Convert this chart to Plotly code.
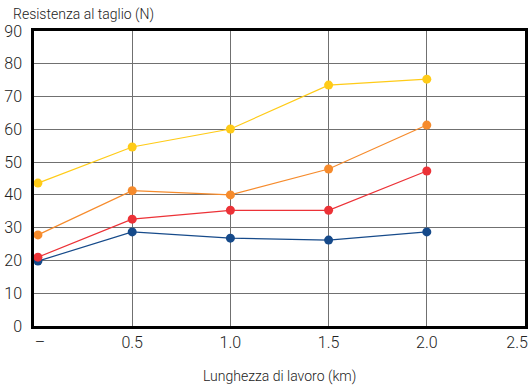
import plotly.graph_objects as go

lunghezza = [0.02, 0.5, 1.0, 1.5, 2.0]
serie_gialla = [43.6, 54.6, 60.1, 73.5, 75.3]
serie_arancio = [27.8, 41.3, 40.0, 47.9, 61.3]
serie_rossa = [21.0, 32.6, 35.3, 35.3, 47.3]
serie_blu = [19.8, 28.7, 26.8, 26.2, 28.7]

x_tickvals = [0.02, 0.5, 1.0, 1.5, 2.0, 2.46]
x_ticktext = ["\u00a0\u2013", "0.5", "1.0", "1.5", "2.0", "2.5"]
y_tickvals = [0, 10, 20, 30, 40, 50, 60, 70, 80, 90]

FONT = "Roboto, Liberation Sans, sans-serif"

fig = go.Figure()
for vals, col in [(serie_blu, "#164a8a"), (serie_rossa, "#ec3237"),
                  (serie_arancio, "#f68b2c"), (serie_gialla, "#ffcb17")]:
    fig.add_trace(go.Scatter(x=lunghezza, y=vals, mode="lines+markers",
                             line=dict(color=col, width=1.2),
                             marker=dict(color=col, size=9),
                             showlegend=False, cliponaxis=False))

fig.update_layout(
    width=531, height=389,
    margin=dict(l=34, r=6, t=31, b=63),
    paper_bgcolor="white", plot_bgcolor="white",
    font=dict(family=FONT, color="#222", size=15, weight=300),
    xaxis=dict(range=[0, 2.5], tickvals=x_tickvals, ticktext=x_ticktext,
               showgrid=False, automargin=False,
               showline=True, linecolor="black", linewidth=2.5, mirror=True,
               ticks="", tickfont=dict(size=16, weight=300), zeroline=False),
    yaxis=dict(range=[0, 90], tickvals=y_tickvals, automargin=False,
               showgrid=True, gridcolor="#707070", gridwidth=1,
               showline=True, linecolor="black", linewidth=2.5, mirror=True,
               ticks="", ticklabelstandoff=6, tickfont=dict(size=16, weight=300), zeroline=False),
    xaxis2=dict(range=[0, 2.5], overlaying="x", tickvals=[0.5, 1.0, 1.5, 2.0],
                showticklabels=False, showgrid=True, gridcolor="#707070", gridwidth=1,
                zeroline=False, automargin=False),
    annotations=[
        dict(text="Resistenza al taglio (N)", xref="paper", yref="paper",
             x=-0.047, y=1.0, xanchor="left", yanchor="bottom", yshift=6,
             showarrow=False, font=dict(size=14, family=FONT, weight=300)),
        dict(text="Lunghezza di lavoro (km)", xref="paper", yref="paper",
             x=0.5, y=0, xanchor="center", yanchor="top", yshift=-40,
             showarrow=False, font=dict(size=14, family=FONT, weight=300)),
    ],
)
fig.add_trace(go.Scatter(x=[None], y=[None], xaxis="x2", showlegend=False))

fig.write_html("out.html", config={"displayModeBar": False},
               post_script="document.body.style.margin='0';")
